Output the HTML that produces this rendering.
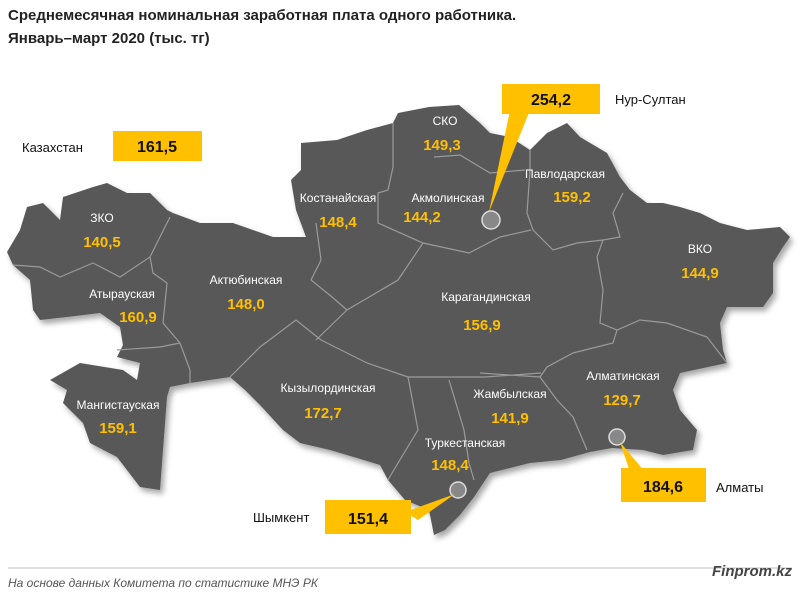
<!DOCTYPE html>
<html><head><meta charset="utf-8"><style>
body{margin:0;background:#fff;width:800px;height:598px;overflow:hidden;font-family:"Liberation Sans",sans-serif;}
svg{position:absolute;left:0;top:0}
</style></head><body>
<svg width="800" height="598" viewBox="0 0 800 598" font-family="Liberation Sans, sans-serif">
<defs><filter id="sh" x="-10%" y="-10%" width="120%" height="120%"><feDropShadow dx="3" dy="4" stdDeviation="3" flood-color="#000" flood-opacity="0.35"/></filter></defs>
<text x="8" y="20" font-size="15" font-weight="bold" fill="#222">Среднемесячная номинальная заработная плата одного работника.</text>
<text x="8" y="43" font-size="15" font-weight="bold" fill="#222">Январь–март 2020  (тыс. тг)</text>
<path filter="url(#sh)" fill="#595959" d="M7,252 L20,230 L27,207 L43,203 L60,220 L63,197 L93,187 L107,183 L127,193 L150,193 L167,210 L173,213 L200,223 L233,223 L273,237 L306,237 L296,210 L291,180 L301,170 L301,143 L337,140 L367,130 L393,123 L398,113 L429,107 L459,105 L480,123 L490,133 L510,137 L530,150 L547,133 L567,123 L580,137 L607,153 L620,177 L630,190 L647,203 L663,203 L680,207 L700,213 L720,223 L747,230 L780,227 L790,237 L783,247 L773,263 L773,293 L763,307 L727,307 L720,323 L723,350 L727,363 L680,373 L673,390 L680,410 L697,430 L693,450 L663,455 L643,450 L612,448 L590,452 L561,460 L530,463 L490,473 L474,497 L460,515 L445,530 L434,535 L429,510 L405,500 L388,480 L380,465 L357,458 L330,450 L300,443 L283,430 L260,405 L245,390 L230,377 L190,383 L170,387 L167,397 L160,490 L140,487 L117,457 L90,443 L83,423 L63,403 L67,390 L50,380 L80,363 L123,370 L137,380 L140,363 L117,357 L123,345 L120,327 L100,313 L67,317 L40,320 L33,310 L30,280 L13,265 Z"/>
<g fill="none" stroke="#9a9a9a" stroke-width="1.2">
<path d="M13,265 L40,267 L60,277 L93,263 L120,277 L150,257 L170,217"/>
<path d="M150,257 L153,273 L167,283 L163,323 L180,343 L190,370 L190,383"/>
<path d="M117,350 L160,347 L180,343"/>
<path d="M230,377 L260,347 L296,320 L321,340"/>
<path d="M393,123 L393,167 L388,190 L378,193 L378,223 L423,243 L469,253 L500,237 L531,230"/>
<path d="M434,157 L460,155 L490,173 L525,170"/>
<path d="M316,223 L321,260 L311,280 L332,297 L347,310"/>
<path d="M423,243 L398,280 L347,310 L316,340"/>
<path d="M321,340 L367,363 L408,377 L485,377 L541,373"/>
<path d="M408,377 L418,430 L398,463 L388,480"/>
<path d="M449,380 L464,430 L469,463 L474,480"/>
<path d="M530,150 L530,170 L527,213 L533,230 L553,250 L577,243 L603,240"/>
<path d="M623,193 L613,213 L620,237 L603,240 L597,257 L603,290 L600,323 L617,330 L640,320 L667,323 L707,337 L727,363"/>
<path d="M617,330 L613,343 L573,353 L547,367 L540,377 L557,400 L573,417 L587,450"/>
<path d="M480,373 L540,377"/>
</g>
<g fill="#888" stroke="#ddd" stroke-width="1.5">
<circle cx="491" cy="220" r="9"/><circle cx="617" cy="437" r="8"/><circle cx="458" cy="490" r="8"/>
</g>
<g font-size="12" fill="#fff" text-anchor="middle">
<text x="102" y="222">ЗКО</text>
<text x="122" y="298">Атырауская</text>
<text x="118" y="409">Мангистауская</text>
<text x="246" y="284">Актюбинская</text>
<text x="338" y="202">Костанайская</text>
<text x="445" y="125">СКО</text>
<text x="448" y="202">Акмолинская</text>
<text x="565" y="178">Павлодарская</text>
<text x="700" y="253">ВКО</text>
<text x="486" y="301">Карагандинская</text>
<text x="328" y="392">Кызылординская</text>
<text x="510" y="398">Жамбылская</text>
<text x="623" y="380">Алматинская</text>
<text x="465" y="447">Туркестанская</text>
</g>
<g font-size="15" font-weight="bold" fill="#FFC000" text-anchor="middle">
<text x="102" y="247">140,5</text>
<text x="138" y="322">160,9</text>
<text x="118" y="433">159,1</text>
<text x="246" y="309">148,0</text>
<text x="338" y="227">148,4</text>
<text x="442" y="150">149,3</text>
<text x="422" y="222">144,2</text>
<text x="572" y="202">159,2</text>
<text x="700" y="278">144,9</text>
<text x="482" y="330">156,9</text>
<text x="323" y="418">172,7</text>
<text x="510" y="423">141,9</text>
<text x="622" y="405">129,7</text>
<text x="450" y="470">148,4</text>
</g>
<g fill="#FFC000">
<polygon points="489,212 510,110 530,110"/>
<polygon points="620,442 630,472 645,472"/>
<polygon points="455,494 405,512 418,520"/>
<rect x="502" y="84" width="98" height="30"/>
<rect x="113" y="131" width="89" height="30"/>
<rect x="621" y="468" width="85" height="34"/>
<rect x="325" y="500" width="86" height="34"/>
</g>
<g font-size="16" font-weight="bold" fill="#111" text-anchor="middle">
<text x="551" y="105">254,2</text>
<text x="157" y="152">161,5</text>
<text x="663" y="492">184,6</text>
<text x="368" y="524">151,4</text>
</g>
<g font-size="13" fill="#111">
<text x="615" y="104">Нур-Султан</text>
<text x="22" y="152">Казахстан</text>
<text x="716" y="492">Алматы</text>
<text x="253" y="522">Шымкент</text>
</g>
<line x1="8" y1="568" x2="792" y2="568" stroke="#bbb" stroke-width="1"/>
<text x="8" y="587" font-size="12" font-style="italic" fill="#555">На основе данных Комитета по статистике МНЭ РК</text>
<text x="792" y="576" font-size="15" font-style="italic" font-weight="bold" fill="#444" text-anchor="end">Finprom.kz</text>
</svg>
</body></html>
